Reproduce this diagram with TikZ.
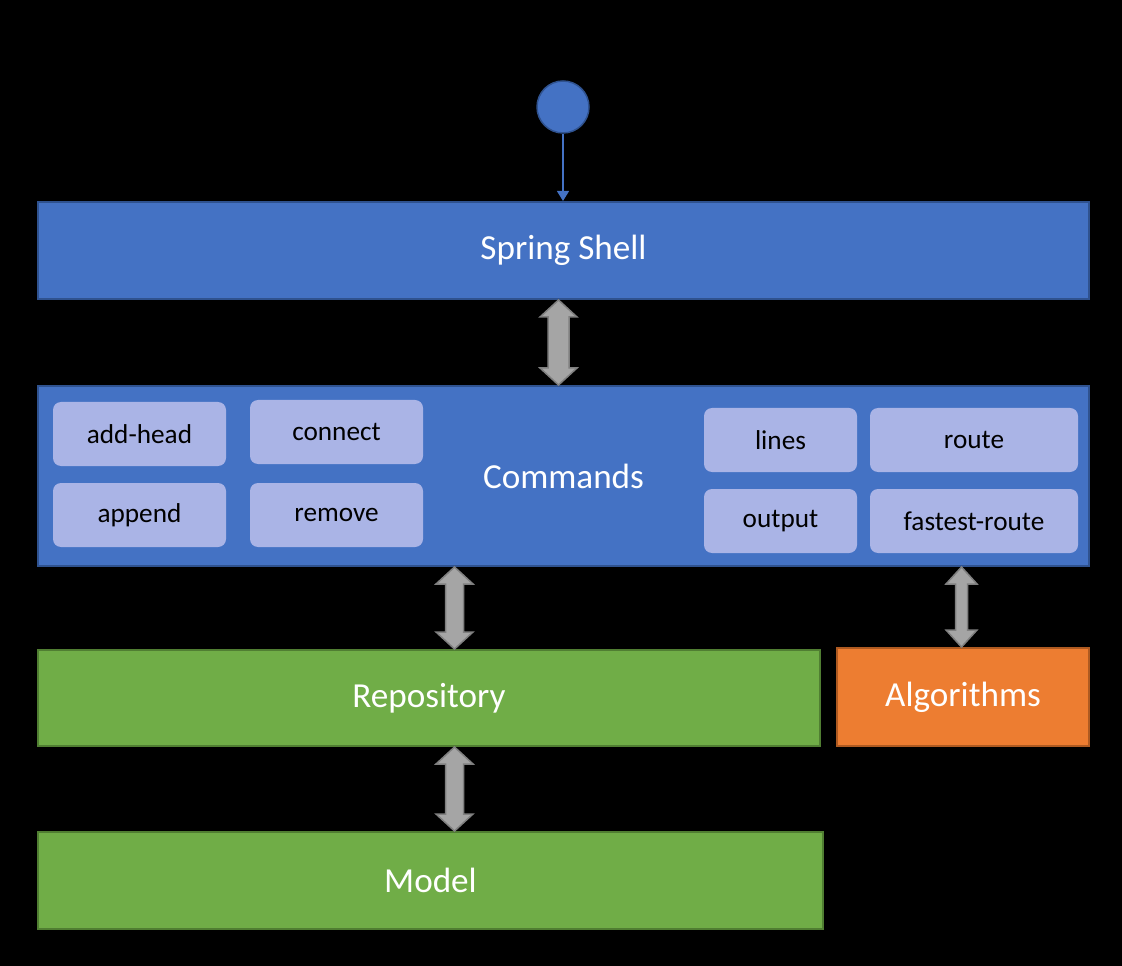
\documentclass[tikz,border=0pt]{standalone}
\usepackage{fontspec}
\setmainfont{Carlito}
\usepackage{tikz}
\usetikzlibrary{arrows.meta,calc,fit}

\definecolor{shellblue}{HTML}{4472C4}
\definecolor{shelledge}{HTML}{2F528F}
\definecolor{cmdfill}{HTML}{AAB4E6}
\definecolor{repogreen}{HTML}{70AD47}
\definecolor{repoedge}{HTML}{507E32}
\definecolor{algoorange}{HTML}{ED7D31}
\definecolor{algoedge}{HTML}{AE5A21}
\definecolor{arrowgray}{HTML}{A5A5A5}
\definecolor{arrowedge}{HTML}{7F7F7F}

% block arrow with two heads: from, to, half shaft, half head
\newcommand{\bothway}[4]{%
  \filldraw[twoway] (#1) -- ++(#4,17) -- ++({-(#4-#3)},0) -- ($(#2)+(#3,-17)$)
    -- ++({#4-#3},0) -- (#2) -- ++(-#4,-17) -- ++({#4-#3},0)
    -- ($(#1)+(-#3,17)$) -- ++({-(#4-#3)},0) -- cycle;}

\begin{document}
\begin{tikzpicture}[x=0.2mm,y=-0.2mm]
    \tikzstyle{layer} = [draw, line width=0.4mm, inner sep=0pt]
    \tikzstyle{layertext} = [text=white, inner sep=0pt, font=\fontsize{20}{24}\selectfont]
    \tikzstyle{cmd} = [fill=cmdfill, rounded corners=1.6mm, inner sep=0pt]
    \tikzstyle{cmdtext} = [text=black, inner sep=0pt, font=\fontsize{15.5}{18}\selectfont]
    \tikzstyle{twoway} = [fill=arrowgray, draw=arrowedge, line width=0.3mm, line join=miter]
    \fill[black] (0,0) rectangle (1122,966);
    \useasboundingbox (0,0) rectangle (1122,966);

    % layers
    \node[layer, fill=shellblue, draw=shelledge, fit={(38,202) (1089,299)}, label={[layertext]center:Spring Shell}] (shell) {};
    \node[layer, fill=shellblue, draw=shelledge, fit={(38,386) (1089,566)}, label={[layertext]center:Commands}] (commands) {};
    \node[layer, fill=repogreen, draw=repoedge, fit={(38,650) (820,746)}, label={[layertext]center:Repository}] (repo) {};
    \node[layer, fill=algoorange, draw=algoedge, fit={(837,648) (1089,746)}, label={[layertext]center:Algorithms}] (algo) {};
    \node[layer, fill=repogreen, draw=repoedge, fit={(38,832) (823,929)}, label={[layertext]center:Model}] (model) {};

    % commands
    \node[cmd, fit={(53,402) (226,466)}, label={[cmdtext]center:add-head}] (addhead) {};
    \node[cmd, fit={(250,400) (423,464)}, label={[cmdtext]center:connect}] (connect) {};
    \node[cmd, fit={(53,483) (226,547)}, label={[cmdtext]center:append}] (append) {};
    \node[cmd, fit={(250,483) (423,547)}, label={[cmdtext]center:remove}] (remove) {};
    \node[cmd, fit={(704,408) (857,472)}, label={[cmdtext]center:lines}] (lines) {};
    \node[cmd, fit={(870,408) (1078,472)}, label={[cmdtext]center:route}] (route) {};
    \node[cmd, fit={(704,489) (857,553)}, label={[cmdtext]center:output}] (output) {};
    \node[cmd, fit={(870,489) (1078,553)}, label={[cmdtext]center:fastest-route}] (fastest) {};

    % start
    \node[circle, fill=shellblue, draw=shelledge, line width=0.3mm, minimum size=10.4mm, inner sep=0pt] (start) at (563,107) {};
    \draw[shellblue, line width=0.25mm, -{Triangle[length=2mm, width=2.4mm]}] (start) -- (start |- shell.north);

    % block arrows
    \coordinate (a1) at (558.5,0);
    \coordinate (a2) at (454.5,0);
    \coordinate (a3) at (961.5,0);
    \bothway{a1 |- shell.south}{a1 |- commands.north}{10.5}{18.5}
    \bothway{a2 |- commands.south}{a2 |- repo.north}{9}{18.5}
    \bothway{a3 |- commands.south}{a3 |- algo.north}{6}{15.5}
    \bothway{a2 |- repo.south}{a2 |- model.north}{9}{18.5}
\end{tikzpicture}
\end{document}
